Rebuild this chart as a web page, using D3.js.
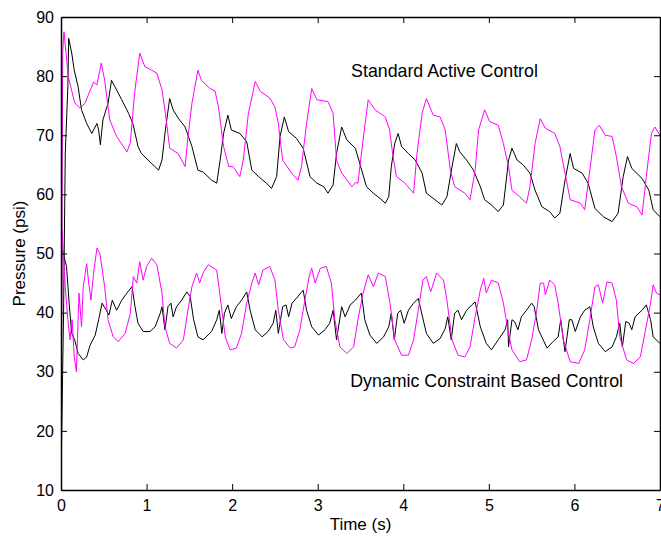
<!DOCTYPE html>
<html>
<head>
<meta charset="utf-8">
<style>
  body { margin: 0; background: #fff; }
  text { font-family: Arial, "Liberation Sans", Helvetica, sans-serif; fill: #000; }
</style>
<script src="https://cdnjs.cloudflare.com/ajax/libs/d3/7.8.5/d3.min.js"></script>
</head>
<body>
<svg id="chart"></svg>
<script>
  // [time (s), pressure (psi)]
  let standardMagenta = [[0,13],[0.02,84],[0.035,87.5],[0.085,79.9],[0.16,75.5],[0.22,74.6],[0.28,75.4],[0.38,79],[0.42,78.5],[0.47,82.2],[0.51,79.3],[0.57,72.6],[0.65,69.8],[0.77,67.2],[0.81,68.7],[0.86,77.1],[0.92,83.9],[0.98,81.6],[1.06,81],[1.12,80.5],[1.18,77.7],[1.22,73.7],[1.27,67.8],[1.37,66.9],[1.45,64.7],[1.48,69.2],[1.53,75.4],[1.6,81],[1.64,79.3],[1.74,77.9],[1.8,77.5],[1.84,74.8],[1.9,68.1],[1.96,64.7],[2.01,64.7],[2.09,63],[2.13,65.8],[2.19,73.7],[2.27,79.1],[2.33,77.4],[2.44,76.3],[2.5,74.8],[2.54,72],[2.59,65.8],[2.7,63.5],[2.77,62.4],[2.81,64.7],[2.87,72],[2.93,77.9],[2.99,76],[3.12,75.7],[3.18,73.7],[3.22,65.8],[3.28,63.6],[3.4,61.3],[3.44,62],[3.47,61.9],[3.53,69.2],[3.59,76],[3.67,74.3],[3.79,73.1],[3.84,70.9],[3.88,66.4],[3.92,63],[4.02,61.9],[4.12,60.2],[4.16,66.9],[4.22,73.7],[4.27,76.2],[4.35,73.4],[4.43,73.1],[4.49,70.9],[4.55,64.1],[4.6,61.3],[4.72,60.2],[4.78,59.1],[4.84,64.1],[4.88,70.9],[4.95,74.3],[5.01,72.3],[5.11,71.7],[5.17,68.6],[5.23,64.7],[5.27,60.7],[5.36,59.6],[5.44,58.5],[5.48,61.3],[5.54,68.6],[5.6,72.8],[5.66,71.2],[5.77,70.3],[5.83,68.1],[5.89,63.6],[5.95,59.1],[6.07,58.5],[6.12,57.4],[6.18,64.1],[6.24,70.9],[6.29,71.7],[6.36,70],[6.44,69.8],[6.49,66.4],[6.55,61.3],[6.63,58.5],[6.73,57.9],[6.79,56.5],[6.84,63],[6.9,70.3],[6.94,71.4],[7,70]]

  let standardBlack = [[0,12],[0.03,40],[0.05,67],[0.08,78.2],[0.09,86.4],[0.125,83.9],[0.155,81],[0.2,78.2],[0.24,74.3],[0.3,72],[0.36,70.3],[0.42,72],[0.44,70.9],[0.46,68.4],[0.49,72.6],[0.55,75.4],[0.59,79.3],[0.63,78.2],[0.71,76],[0.79,73.7],[0.84,72],[0.9,68.1],[0.94,66.9],[1.04,65.5],[1.14,64.1],[1.18,65.8],[1.22,70.9],[1.27,76.2],[1.31,74.3],[1.37,72.9],[1.45,71.4],[1.53,68.1],[1.6,64.1],[1.66,63.8],[1.76,62.4],[1.82,61.9],[1.86,65.8],[1.9,70.3],[1.95,73.4],[1.99,70.9],[2.09,70.3],[2.17,68.9],[2.23,64.1],[2.31,63],[2.4,61.9],[2.46,61],[2.52,63],[2.56,69.8],[2.61,73.1],[2.66,70.6],[2.75,69.5],[2.83,67.8],[2.91,63],[2.99,61.9],[3.07,61.3],[3.12,60.2],[3.18,61.6],[3.22,66.9],[3.28,71.4],[3.34,69.2],[3.44,67.8],[3.49,65.3],[3.57,61.3],[3.65,60.2],[3.73,59.3],[3.79,58.5],[3.83,59.6],[3.86,64.7],[3.9,68.6],[3.94,70.3],[3.98,68.1],[4.06,66.9],[4.14,65.8],[4.22,63.6],[4.27,60.2],[4.37,59.1],[4.45,58.2],[4.51,59.6],[4.57,64.7],[4.62,68.6],[4.66,67.2],[4.74,65.8],[4.82,64.1],[4.9,61.3],[4.95,59.1],[5.03,58.2],[5.11,57.1],[5.17,58.2],[5.23,65.8],[5.27,67.8],[5.33,65.8],[5.4,65],[5.48,63.6],[5.54,60.7],[5.62,57.9],[5.71,57.1],[5.77,56],[5.83,56.8],[5.89,62.4],[5.95,66.9],[5.99,64.4],[6.09,63.6],[6.16,61.9],[6.24,57.6],[6.34,56.2],[6.44,55.4],[6.51,56.8],[6.57,63],[6.62,66.4],[6.67,64.4],[6.79,62.7],[6.87,60.7],[6.92,57.4],[7,56.2]]

  let dynamicMagenta = [[0,13],[0.01,54],[0.015,53.4],[0.05,44.4],[0.08,38.8],[0.105,35.4],[0.13,38.8],[0.155,32.5],[0.18,30],[0.21,43.3],[0.24,37.6],[0.26,44.4],[0.3,48.3],[0.32,45.5],[0.35,42.1],[0.38,46.6],[0.42,50.9],[0.455,50],[0.51,44.4],[0.55,38.8],[0.61,35.9],[0.67,35.1],[0.75,36.5],[0.81,39.9],[0.845,46.1],[0.885,45],[0.92,48.6],[0.96,45.5],[1,47.8],[1.06,49.2],[1.12,48.1],[1.18,43.3],[1.215,37.6],[1.27,34.8],[1.35,34],[1.43,35.4],[1.49,41],[1.53,44.4],[1.585,46.7],[1.62,45],[1.66,46.7],[1.72,48.1],[1.82,47.2],[1.86,42.7],[1.92,35.9],[1.975,33.7],[2.05,34],[2.11,36.5],[2.17,41.6],[2.23,45],[2.27,46.7],[2.31,44.7],[2.36,47.2],[2.44,47.8],[2.5,45.5],[2.54,40.4],[2.6,35.4],[2.68,34],[2.73,34.2],[2.79,37],[2.85,42.1],[2.9,46.1],[2.93,47.5],[2.97,45],[3.03,47.5],[3.1,47.8],[3.16,45],[3.2,38.8],[3.26,34.2],[3.34,33.1],[3.42,34.2],[3.47,38.8],[3.53,43.3],[3.59,46.4],[3.65,44.4],[3.71,46.7],[3.79,46.1],[3.845,41.6],[3.9,35.4],[3.98,32.8],[4.06,32.8],[4.12,35.4],[4.175,40.4],[4.23,45.5],[4.27,46.1],[4.32,43.5],[4.39,46.7],[4.47,45.5],[4.51,42.1],[4.57,35.4],[4.64,32.8],[4.72,32.5],[4.78,34.2],[4.84,39.3],[4.9,43.8],[4.94,45.8],[4.97,43.3],[5.03,45.5],[5.11,45],[5.17,41.6],[5.23,36.5],[5.27,33.7],[5.36,31.7],[5.44,32],[5.5,35.4],[5.56,40.4],[5.6,45],[5.64,45],[5.66,43],[5.71,45.5],[5.77,44.7],[5.81,41.6],[5.87,35.4],[5.95,31.7],[6.05,31.4],[6.12,33.7],[6.18,38.8],[6.24,44.4],[6.28,44.7],[6.33,41.6],[6.38,45.2],[6.44,45],[6.49,42.1],[6.53,35.9],[6.61,32],[6.69,31.4],[6.77,32.5],[6.83,37],[6.89,41.6],[6.92,44.7],[6.96,43.3],[7,43]]

  let dynamicBlack = [[0,12],[0.01,50.6],[0.015,50.6],[0.065,47.8],[0.095,41.6],[0.125,36.5],[0.16,35.4],[0.2,33.1],[0.26,32],[0.3,32.5],[0.34,34.5],[0.4,36.2],[0.44,38.8],[0.48,41.6],[0.53,40.4],[0.56,39.6],[0.6,42.1],[0.65,40.4],[0.71,42.1],[0.77,43.3],[0.83,44.4],[0.865,41],[0.9,38.2],[0.96,36.8],[1.04,36.8],[1.1,37.6],[1.16,39.9],[1.18,41],[1.215,37.1],[1.25,41],[1.285,41.6],[1.31,39.3],[1.35,41],[1.41,42.1],[1.47,43.5],[1.51,42.7],[1.55,38.8],[1.6,35.9],[1.66,35.4],[1.76,36.8],[1.82,38.8],[1.85,40.4],[1.88,36.5],[1.91,39.9],[1.95,41.3],[1.99,39],[2.05,41],[2.11,42.1],[2.17,43.5],[2.21,40.4],[2.27,37.1],[2.35,35.9],[2.42,36.8],[2.48,38.2],[2.51,40.4],[2.54,36.5],[2.59,41],[2.63,41.3],[2.66,39.3],[2.7,41.6],[2.75,42.4],[2.83,43.8],[2.87,40.4],[2.93,37.6],[3.01,36.2],[3.085,37.1],[3.14,38.2],[3.18,40.4],[3.22,35.4],[3.28,41],[3.32,39.3],[3.38,41.3],[3.44,42.1],[3.51,43.3],[3.55,38.8],[3.61,36.2],[3.69,34.8],[3.77,35.9],[3.83,37.6],[3.86,39.9],[3.895,35.4],[3.935,39.9],[3.97,40.4],[4.01,38.2],[4.06,40.4],[4.12,41.6],[4.175,42.4],[4.215,39.9],[4.27,36.5],[4.35,34.8],[4.43,35.6],[4.49,37.3],[4.52,39.3],[4.56,35.4],[4.6,39.9],[4.64,40.4],[4.68,38.8],[4.74,40.4],[4.8,41.3],[4.84,41.8],[4.9,37.6],[4.97,34.8],[5.03,33.7],[5.11,35.4],[5.19,37.1],[5.22,38.8],[5.23,34.2],[5.27,38.8],[5.3,38.5],[5.34,37.1],[5.38,39.3],[5.44,40.4],[5.5,41.6],[5.53,41],[5.58,37.1],[5.68,34],[5.75,35.1],[5.81,35.9],[5.84,38.8],[5.89,33.4],[5.94,38.8],[5.97,38.8],[6.01,36.8],[6.07,39.3],[6.12,40.4],[6.18,41],[6.22,37.6],[6.28,34.8],[6.36,33.4],[6.44,34.2],[6.49,35.9],[6.53,38.2],[6.56,34.2],[6.6,38.5],[6.64,38.2],[6.67,37.1],[6.71,39.3],[6.79,40.4],[6.84,41.3],[6.89,38.8],[6.92,35.9],[7,34.8]]

  let xTicks = [0, 1, 2, 3, 4, 5, 6, 7]
  let yTicks = [10, 20, 30, 40, 50, 60, 70, 80, 90]
  let xLabel = 'Time (s)'
  let yLabel = 'Pressure (psi)'
  let notes = [
    {text: 'Standard Active Control', t: 3.39, p: 79.9},
    {text: 'Dynamic Constraint Based Control', t: 3.38, p: 27.4}
  ]

  let width = 661, height = 544
  let margin = {top: 17, right: 1, bottom: 54, left: 61}

  let svg = d3.select('#chart')
      .attr('width', width)
      .attr('height', height)

  let x = d3.scaleLinear()
      .domain([0, 7])
      .range([margin.left, width - margin.right])

  let y = d3.scaleLinear()
      .domain([10, 90])
      .range([height - margin.bottom, margin.top])

  svg.append('defs').append('clipPath')
      .attr('id', 'plotClip')
    .append('rect')
      .attr('x', x(0))
      .attr('y', y(90))
      .attr('width', x(7) - x(0))
      .attr('height', y(10) - y(90))

  let line = d3.line()
      .x(d => x(d[0]))
      .y(d => y(d[1]))

  let series = [
    {data: standardBlack, color: '#000000'},
    {data: dynamicBlack, color: '#000000'},
    {data: standardMagenta, color: '#ff00ff'},
    {data: dynamicMagenta, color: '#ff00ff'}
  ]

  svg.append('g')
      .attr('clip-path', 'url(#plotClip)')
    .selectAll('path')
    .data(series)
    .enter().append('path')
      .attr('d', d => line(d.data))
      .style('fill', 'none')
      .style('stroke', d => d.color)
      .style('stroke-width', '1px')
      .style('stroke-linejoin', 'round')

  // matlab style box, ticks point inward on all four sides
  let tickLen = 6
  let fmt = d3.format('d')

  let bottomAxis = d3.axisBottom(x).tickValues(xTicks).tickFormat(fmt).tickSizeInner(-tickLen).tickSizeOuter(0).tickPadding(10)
  let topAxis = d3.axisTop(x).tickValues(xTicks).tickSizeInner(-tickLen).tickSizeOuter(0).tickFormat('')
  let leftAxis = d3.axisLeft(y).tickValues(yTicks).tickFormat(fmt).tickSizeInner(-tickLen).tickSizeOuter(0).tickPadding(7)
  let rightAxis = d3.axisRight(y).tickValues(yTicks).tickSizeInner(-tickLen).tickSizeOuter(0).tickFormat('')

  let gBottom = svg.append('g').attr('transform', 'translate(0,' + y(10) + ')').call(bottomAxis)
  let gTop = svg.append('g').attr('transform', 'translate(0,' + y(90) + ')').call(topAxis)
  let gLeft = svg.append('g').attr('transform', 'translate(' + x(0) + ',0)').call(leftAxis)
  let gRight = svg.append('g').attr('transform', 'translate(' + x(7) + ',0)').call(rightAxis)

  ;[gBottom, gTop, gLeft, gRight].forEach(g => {
    g.selectAll('.domain').style('stroke', '#000').style('stroke-width', '1.5px')
    g.selectAll('.tick line').style('stroke', '#000').style('stroke-width', '1px')
    g.selectAll('.tick text')
        .style('font-family', 'Arial, "Liberation Sans", sans-serif')
        .style('font-size', '16px')
        .style('fill', '#000')
  })

  svg.append('text')
      .attr('x', (x(0) + x(7)) / 2)
      .attr('y', 530)
      .attr('text-anchor', 'middle')
      .style('font-size', '17px')
      .text(xLabel)

  svg.append('text')
      .attr('transform', 'translate(25,' + ((y(10) + y(90)) / 2) + ') rotate(-90)')
      .attr('text-anchor', 'middle')
      .style('font-size', '17px')
      .text(yLabel)

  svg.append('g')
    .selectAll('text')
    .data(notes)
    .enter().append('text')
      .attr('x', d => x(d.t))
      .attr('y', d => y(d.p))
      .style('font-size', '17.8px')
      .text(d => d.text)
</script>
</body>
</html>
